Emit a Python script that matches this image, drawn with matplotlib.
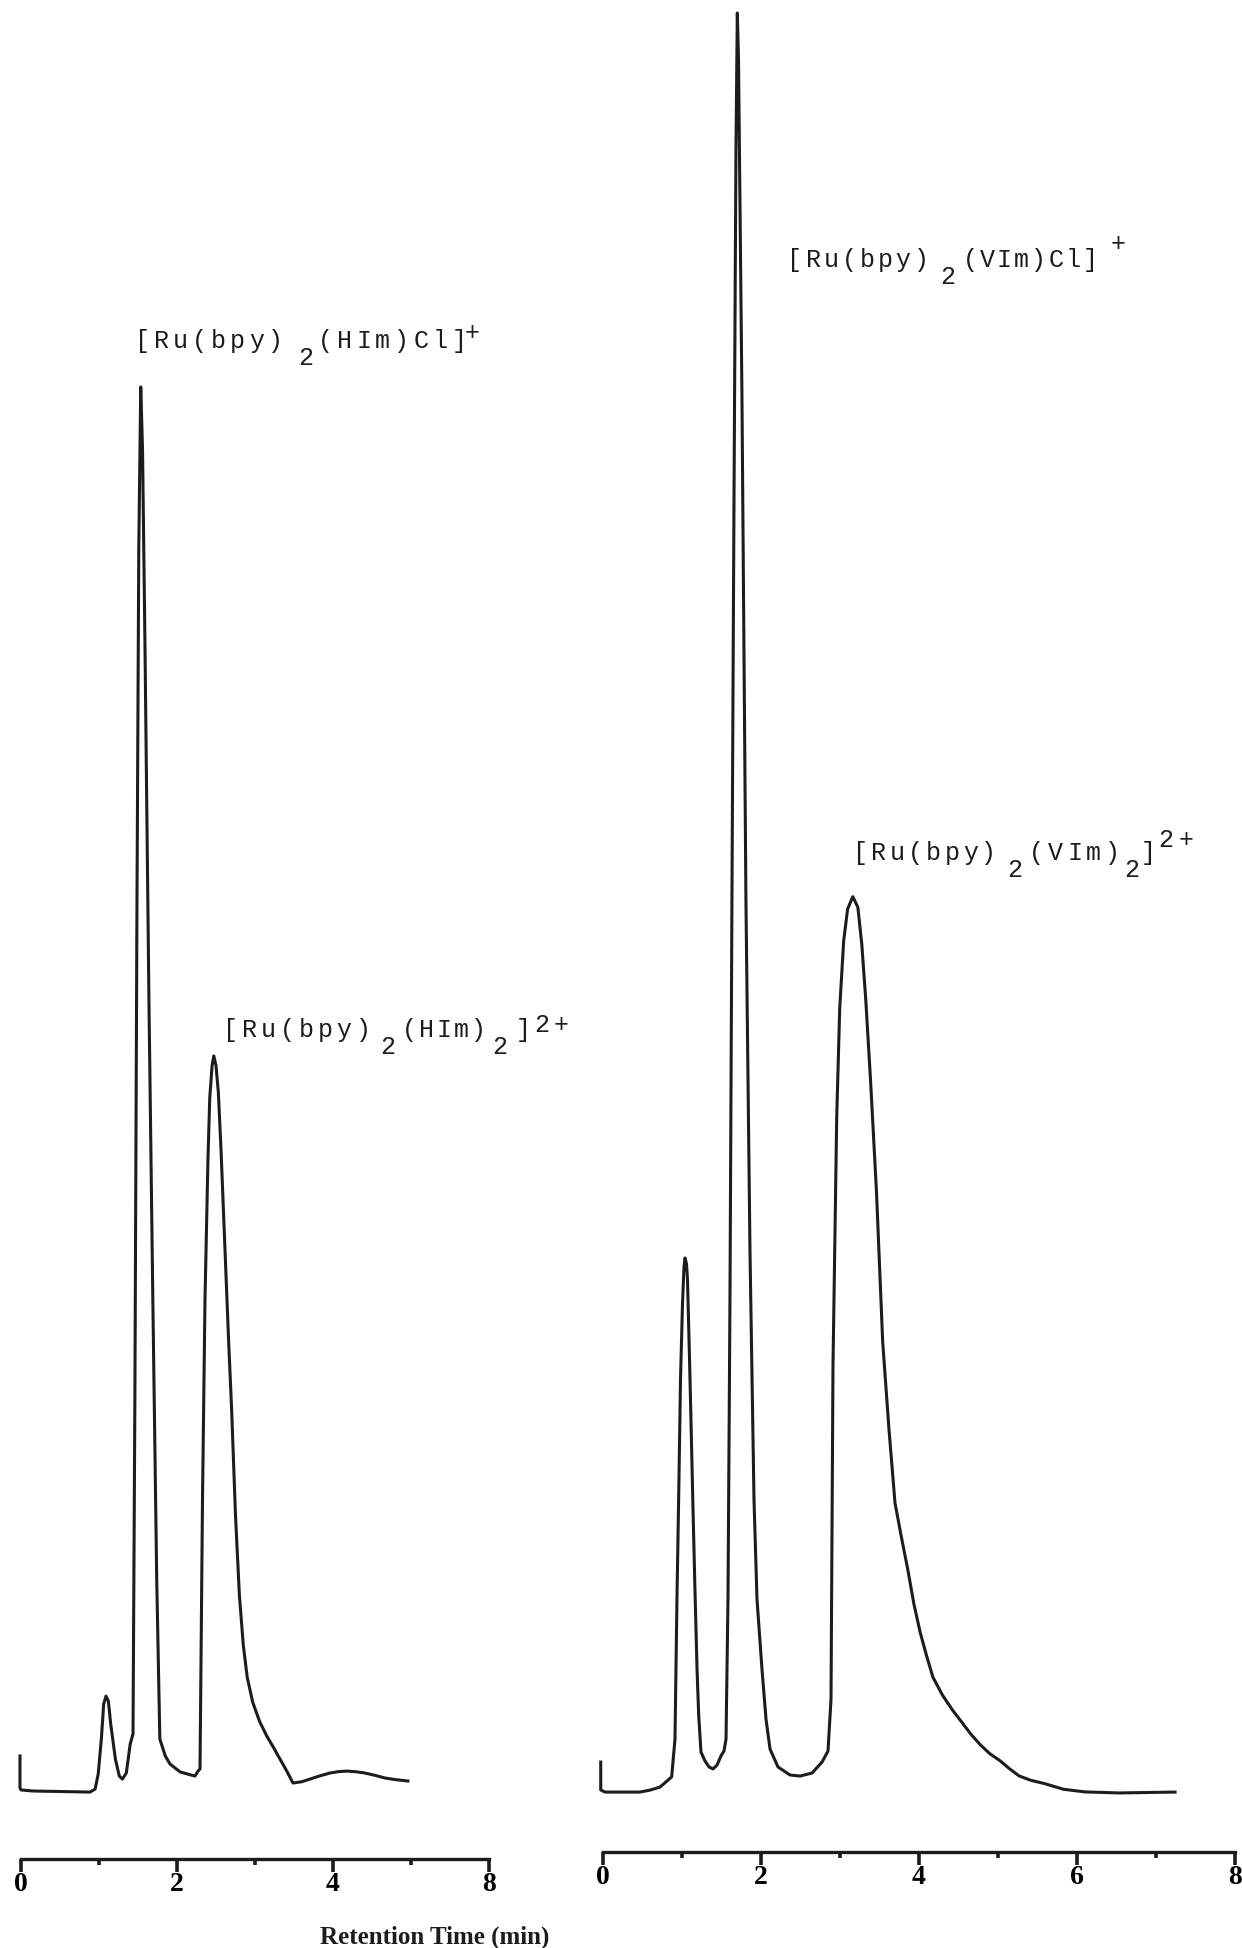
import matplotlib
matplotlib.use("Agg")
import matplotlib.pyplot as plt

# HPLC traces: retention time (min) vs detector response (peak-normalised units)
left_time = [-0.013, -0.013, 0.0, 0.15, 0.885, 0.95, 0.99, 1.03, 1.06, 1.09, 1.12, 1.15, 1.21, 1.26,
             1.30, 1.35, 1.40, 1.436, 1.46, 1.487, 1.51, 1.535, 1.558, 1.59, 1.64, 1.69, 1.74, 1.78,
             1.85, 1.91, 2.04, 2.23, 2.27, 2.295, 2.327, 2.359, 2.397, 2.42, 2.45, 2.472, 2.50, 2.53,
             2.564, 2.615, 2.66, 2.70, 2.75, 2.80, 2.85, 2.90, 2.97, 3.06, 3.15, 3.23, 3.32, 3.41,
             3.487, 3.60, 3.705, 3.83, 3.96, 4.07, 4.18, 4.30, 4.41, 4.54, 4.667, 4.80, 4.96]
left_signal = [1.97, 0.17, 0.06, 0.0, -0.06, 0.11, 0.96, 2.92, 4.89, 5.34, 5.06, 3.77, 1.80, 0.84,
               0.67, 1.01, 2.64, 3.21, 22.05, 50.17, 69.85, 78.97, 75.48, 64.23, 44.54, 27.67, 11.92,
               2.92, 1.97, 1.52, 1.07, 0.84, 1.12, 1.24, 16.42, 27.67, 35.55, 39.0, 40.8, 41.34, 40.8,
               39.3, 36.11, 30.48, 25.5, 21.5, 15.5, 11.0, 8.2, 6.4, 5.0, 3.9, 3.1, 2.5, 1.8, 1.1,
               0.45, 0.52, 0.67, 0.85, 1.01, 1.09, 1.12, 1.08, 1.01, 0.88, 0.73, 0.64, 0.56]

right_time = [-0.025, -0.025, 0.029, 0.472, 0.60, 0.725, 0.873, 0.915, 0.94, 0.963, 0.985, 1.01,
              1.029, 1.042, 1.061, 1.073, 1.099, 1.12, 1.143, 1.168, 1.194, 1.215, 1.244, 1.295,
              1.346, 1.396, 1.447, 1.497, 1.535, 1.561, 1.586, 1.611, 1.636, 1.662, 1.687, 1.704,
              1.719, 1.763, 1.813, 1.864, 1.915, 1.953, 2.016, 2.067, 2.118, 2.219, 2.371, 2.497,
              2.65, 2.777, 2.852, 2.89, 2.915, 2.962, 3.0, 3.05, 3.10, 3.166, 3.23, 3.28, 3.33,
              3.39, 3.466, 3.544, 3.623, 3.70, 3.78, 3.86, 3.94, 4.02, 4.10, 4.18, 4.30, 4.42,
              4.54, 4.66, 4.78, 4.90, 5.03, 5.15, 5.27, 5.42, 5.59, 5.83, 6.10, 6.536, 7.245]
right_signal = [1.63, 0.06, -0.06, -0.06, 0.05, 0.22, 0.79, 2.92, 10.80, 16.87, 23.17, 27.39, 29.47,
                29.98, 29.64, 28.80, 24.30, 20.36, 15.86, 11.30, 6.86, 4.27, 2.19, 1.69, 1.35, 1.24,
                1.46, 1.97, 2.25, 2.92, 10.80, 27.67, 50.17, 72.67, 92.35, 100.0, 97.41, 78.29,
                50.17, 30.48, 16.42, 10.80, 6.86, 4.05, 2.36, 1.35, 0.90, 0.84, 1.01, 1.63, 2.25,
                5.17, 23.88, 37.85, 44.0, 47.8, 49.6, 50.30, 49.7, 47.6, 44.5, 40.0, 33.66, 25.27,
                20.38, 16.2, 14.3, 12.5, 10.5, 8.9, 7.6, 6.4, 5.4, 4.6, 3.9, 3.2, 2.6, 2.1, 1.7,
                1.25, 0.85, 0.6, 0.42, 0.1, -0.05, -0.11, -0.06]

left_ticks = [0, 2, 4, 6]
left_ticklabels = ["0", "2", "4", "8"]
left_minor = [1, 3, 5]
right_ticks = [0, 2, 4, 6, 8]
right_ticklabels = ["0", "2", "4", "6", "8"]
right_minor = [1, 3, 5, 7]

# peak assignments as (text, position) pieces: n = normal, sub, sup
label_him_cl = [("[Ru(bpy)", "n"), ("2", "sub"), ("(HIm)Cl]", "n"), ("+", "sup")]
label_him2 = [("[Ru(bpy)", "n"), ("2", "sub"), ("(HIm)", "n"), ("2", "sub"), ("]", "n"), ("2+", "sup")]
label_vim_cl = [("[Ru(bpy)", "n"), ("2", "sub"), ("(VIm)Cl]", "n"), ("+", "sup")]
label_vim2 = [("[Ru(bpy)", "n"), ("2", "sub"), ("(VIm)", "n"), ("2", "sub"), ("]", "n"), ("2+", "sup")]

W, H = 1242, 1949
fig = plt.figure(figsize=(W / 100, H / 100), dpi=100)
ink = "#1c1c1c"
tick_font = dict(family="Liberation Serif", weight="bold", size=20)


def panel(left_px, axis_px, width_px, tmax, time, signal, ticks, ticklabels, minor):
    base_px, unit_px = 1792, 17.78
    ax = fig.add_axes([left_px / W, 1 - axis_px / H, width_px / W, axis_px / H])
    ax.plot(time, signal, color=ink, lw=2.2, solid_joinstyle="round", clip_on=False)
    ax.set_xlim(0, tmax)
    ax.set_ylim((base_px - axis_px) / unit_px, base_px / unit_px)
    for side in ["top", "left", "right"]:
        ax.spines[side].set_visible(False)
    ax.spines["bottom"].set_linewidth(2.4)
    ax.spines["bottom"].set_color(ink)
    ax.set_yticks([])
    ax.set_xticks(ticks)
    ax.set_xticklabels(ticklabels, fontdict=tick_font)
    ax.set_xticks(minor, minor=True)
    ax.tick_params(axis="x", which="major", direction="out", length=9, width=2.6, color=ink, pad=0)
    ax.tick_params(axis="x", which="minor", direction="out", length=4, width=2.6, color=ink)
    ax.patch.set_visible(False)
    return ax


panel(21, 1860, 78 * 6, 6, left_time, left_signal, left_ticks, left_ticklabels, left_minor)
panel(602.7, 1853, 79 * 8, 8, right_time, right_signal, right_ticks, right_ticklabels, right_minor)


def formula(x0, y0, parts, pitch, gaps, sup_raise, size=18):
    # typewriter lettering: glyphs on a fixed pitch, gaps (px) before each later piece
    x = x0
    for k, (text, kind) in enumerate(parts):
        if k > 0:
            x += gaps[k - 1]
        y = y0
        if kind == "sub":
            y = y0 + 17
        elif kind == "sup":
            y = y0 - sup_raise
        for i, ch in enumerate(text):
            if i > 0:
                x += pitch[k]
            fig.text(x / W, 1 - y / H, ch, ha="center", va="baseline",
                     family="Liberation Mono", fontsize=size, color=ink)


formula(142, 348, label_him_cl, [19.1, 0, 19.1, 0], [29.7, 20, 13.5], 8)
formula(230, 1037, label_him2, [19.0, 0, 17.2, 0, 0, 20], [25, 21.5, 21, 24, 18], 5)
formula(795, 267, label_vim_cl, [18.0, 0, 17.2, 0], [27, 22, 28], 16)
formula(860, 860, label_vim2, [18.4, 0, 19.0, 0, 0, 20], [26, 22, 19, 16, 18], 13)

fig.text(435 / W, 1 - 1944 / H, "Retention Time (min)", ha="center", va="baseline",
         family="Liberation Serif", weight="bold", fontsize=18, color=ink)

fig.savefig("out.png", dpi=100, facecolor="white")
